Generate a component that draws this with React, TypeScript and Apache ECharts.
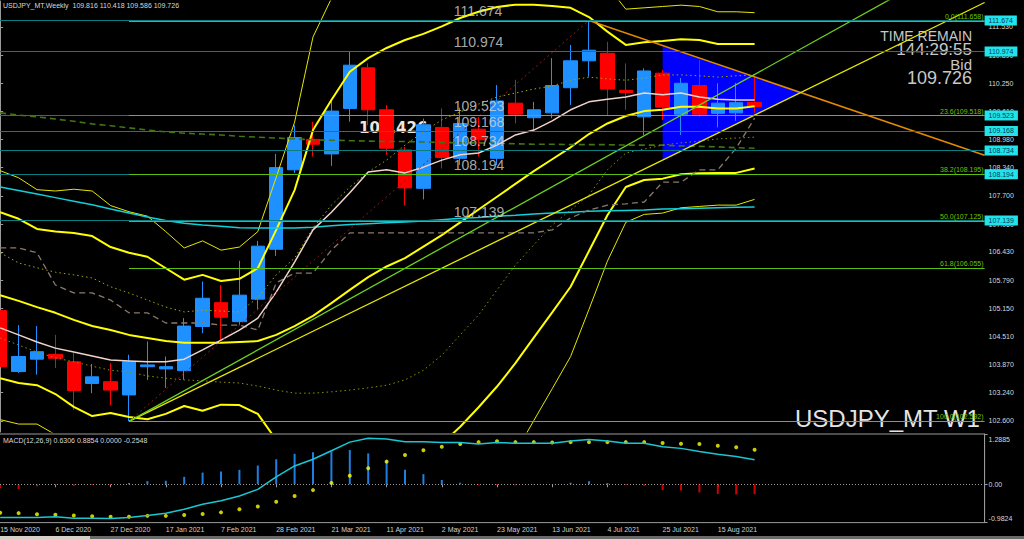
import React, { useEffect, useRef } from "react";
import * as echarts from "echarts";

// ---------- data ----------
const dates = ["15 Nov 2020","22 Nov 2020","29 Nov 2020","6 Dec 2020","13 Dec 2020","20 Dec 2020","27 Dec 2020","3 Jan 2021","10 Jan 2021","17 Jan 2021","24 Jan 2021","31 Jan 2021","7 Feb 2021","14 Feb 2021","21 Feb 2021","28 Feb 2021","7 Mar 2021","14 Mar 2021","21 Mar 2021","28 Mar 2021","4 Apr 2021","11 Apr 2021","18 Apr 2021","25 Apr 2021","2 May 2021","9 May 2021","16 May 2021","23 May 2021","30 May 2021","6 Jun 2021","13 Jun 2021","20 Jun 2021","27 Jun 2021","4 Jul 2021","11 Jul 2021","18 Jul 2021","25 Jul 2021","1 Aug 2021","8 Aug 2021","15 Aug 2021","22 Aug 2021","29 Aug 2021"];
const emptySlots = ["f1","f2","f3","f4","f5","f6","f7","f8","f9","f10","f11","f12"];

const open = [105.10,103.72,104.00,104.11,103.94,103.45,103.49,103.19,103.83,103.78,103.74,104.74,105.28,104.85,105.36,106.49,108.29,108.98,108.65,109.68,110.60,109.65,108.74,107.87,109.25,108.55,109.21,108.55,109.80,109.47,109.58,110.15,110.76,110.93,110.09,109.49,110.48,109.55,110.20,109.57,109.58,109.816];
const high = [105.25,104.77,104.75,104.55,104.14,103.89,103.91,104.10,104.40,104.06,104.93,105.76,105.68,106.23,106.68,108.65,109.30,109.38,109.85,110.974,110.70,109.76,108.81,109.45,109.68,109.70,109.49,110.21,110.33,109.83,110.82,111.12,111.674,111.19,110.70,110.59,110.55,110.37,110.78,110.25,110.26,110.418];
const low = [103.70,103.69,103.65,103.80,102.85,103.23,102.96,102.592,103.53,103.35,103.53,104.59,104.43,104.77,105.11,106.34,108.22,108.59,108.38,109.38,109.30,108.63,107.48,107.62,108.32,108.40,108.59,108.40,109.34,109.15,109.46,109.76,110.40,109.53,109.65,109.08,109.42,109.08,109.49,109.25,109.40,109.586];
const close = [103.83,104.06,104.17,104.02,103.29,103.60,103.30,103.94,103.87,103.83,104.75,105.38,104.95,105.45,106.56,108.34,109.02,108.87,109.62,110.66,109.65,108.78,107.88,109.31,108.57,109.34,108.97,109.85,109.55,109.65,110.20,110.76,111.00,110.12,110.04,110.53,109.71,110.25,109.55,109.80,109.81,109.726];

const bbMid = [105.45,105.32,105.18,105.05,104.89,104.75,104.66,104.55,104.48,104.41,104.37,104.37,104.37,104.39,104.41,104.55,104.75,104.98,105.27,105.57,105.86,106.10,106.29,106.55,106.81,107.10,107.39,107.68,107.97,108.26,108.53,108.80,109.10,109.34,109.51,109.62,109.65,109.72,109.72,109.68,109.68,109.73];
const bbUp2 = [107.33,107.18,106.95,106.89,106.86,106.79,106.54,106.41,106.32,106.06,105.80,105.91,105.77,105.82,106.06,106.93,107.83,109.19,109.87,110.51,110.82,111.05,111.23,111.37,111.54,111.73,111.87,111.98,112.03,112.03,112.00,111.96,111.75,111.42,111.12,111.18,111.21,111.25,111.23,111.14,111.14,111.14];
const bbLo2 = [103.57,103.46,103.41,103.21,102.92,102.71,102.78,102.69,102.64,102.76,102.94,102.83,102.97,102.96,102.76,102.17,101.67,100.77,100.67,100.63,100.90,101.15,101.35,101.73,102.08,102.47,102.91,103.38,103.91,104.49,105.06,105.64,106.45,107.26,107.90,108.06,108.09,108.19,108.21,108.22,108.22,108.32];
const bbUp3 = [108.27,108.11,107.84,107.81,107.85,107.81,107.48,107.34,107.24,106.89,106.52,106.68,106.47,106.54,106.89,108.12,109.37,111.30,112.17,112.98,113.30,113.53,113.70,113.78,113.91,114.05,114.11,114.13,114.06,113.92,113.74,113.54,113.08,112.46,111.93,111.96,111.99,112.02,111.99,111.87,111.87,111.85];
const bbLo3 = [102.63,102.53,102.53,102.29,101.93,101.69,101.84,101.76,101.72,101.94,102.23,102.06,102.27,102.25,101.94,100.98,100.13,98.67,98.37,98.16,98.42,98.68,98.88,99.32,99.71,100.16,100.67,101.23,101.88,102.61,103.33,104.06,105.13,106.22,107.10,107.28,107.31,107.43,107.46,107.49,107.49,107.62];
const pinkMA = [104.71,104.55,104.39,104.25,104.16,104.07,103.98,103.96,103.94,103.94,104.00,104.21,104.43,104.66,104.93,105.52,106.20,106.93,107.33,107.77,108.24,108.29,108.22,108.35,108.51,108.63,108.67,108.85,109.08,109.19,109.40,109.65,109.83,109.89,109.94,110.03,109.99,110.03,109.94,109.89,109.87,109.87];
const oliveUpper = [106.41,106.18,106.07,105.97,105.91,105.84,105.64,105.50,105.34,105.18,105.07,105.11,105.09,105.07,105.39,105.91,106.29,106.97,107.49,107.90,108.24,108.51,108.85,109.15,109.42,109.60,109.78,109.94,110.03,110.12,110.19,110.32,110.39,110.35,110.32,110.37,110.44,110.44,110.42,110.39,110.42,110.44];
const oliveLower = [104.48,104.32,104.16,104.03,103.94,103.84,103.75,103.71,103.62,103.57,103.53,103.51,103.48,103.46,103.39,103.30,103.23,103.23,103.26,103.30,103.35,103.41,103.53,103.75,104.09,104.55,105.00,105.57,106.13,106.59,107.04,107.38,107.72,108.29,108.67,108.76,108.85,108.90,108.94,108.99,109.01,109.03];
const grayDashed = [106.52,106.52,106.41,105.68,105.50,105.50,105.34,105.05,105.05,104.82,104.82,104.82,104.77,104.77,104.66,105.73,105.95,105.95,106.47,106.86,106.86,106.86,106.86,106.86,106.86,106.86,106.86,106.86,106.86,106.86,106.93,107.20,107.38,107.49,107.52,107.56,108.01,108.01,108.29,108.29,108.78,109.46];
const greenDashed = [109.58,109.53,109.49,109.44,109.39,109.33,109.29,109.24,109.19,109.15,109.12,109.10,109.08,109.05,109.03,109.01,108.99,108.97,108.96,108.95,108.94,108.93,108.93,108.92,108.91,108.90,108.90,108.89,108.88,108.87,108.87,108.86,108.86,108.86,108.85,108.85,108.85,108.83,108.82,108.81,108.79,108.78];
const cyanMA = [107.90,107.82,107.74,107.66,107.58,107.50,107.40,107.31,107.22,107.14,107.08,107.04,107.01,106.98,106.97,106.97,106.97,106.99,107.02,107.05,107.07,107.09,107.11,107.13,107.16,107.19,107.21,107.24,107.26,107.29,107.31,107.33,107.35,107.36,107.37,107.38,107.40,107.41,107.42,107.43,107.44,107.45];

const macdLine = [-0.85,-0.85,-0.85,-0.83,-0.87,-0.87,-0.88,-0.85,-0.80,-0.74,-0.64,-0.51,-0.42,-0.30,-0.13,0.19,0.47,0.64,0.86,1.08,1.18,1.16,1.09,1.09,1.07,1.07,1.03,1.07,1.05,1.05,1.05,1.11,1.15,1.11,1.05,1.05,0.96,0.92,0.84,0.77,0.71,0.6306];
const macdSignal = [-0.73,-0.74,-0.77,-0.78,-0.80,-0.82,-0.83,-0.83,-0.81,-0.81,-0.79,-0.76,-0.72,-0.64,-0.57,-0.45,-0.30,-0.15,0.03,0.22,0.41,0.58,0.75,0.87,0.96,1.03,1.08,1.10,1.08,1.08,1.07,1.08,1.08,1.08,1.08,1.08,1.06,1.04,1.03,0.99,0.95,0.8854];
const macdHist = [-0.10,-0.12,-0.05,-0.02,-0.04,-0.02,-0.02,0.03,0.08,0.09,0.19,0.30,0.33,0.37,0.48,0.64,0.78,0.82,0.84,0.88,0.79,0.62,0.37,0.26,0.11,0.04,-0.03,-0.02,-0.03,-0.02,-0.01,0.04,0.08,0.03,-0.02,-0.04,-0.15,-0.16,-0.21,-0.25,-0.26,-0.2548];

const priceTicks = [111.53,110.89,110.25,109.61,108.98,108.34,107.70,107.06,106.43,105.79,105.15,104.51,103.87,103.24,102.60];
const macdTicks = [1.2885, 0, -0.9824];
const macdTickLabels = ["1.2885", "0.00", "-0.9824"];

const hLevels = [111.674,110.974,109.523,109.168,108.734,108.194,107.139];
const fibPct = ["0.0","23.6","38.2","50.0","61.8","100.0"];
const fibValues = [111.658,109.518,108.195,107.125,106.055,102.592];
const fibStartBar = 7;
const bidPrice = 109.726;

// trend objects: [barIndex, price]
const greenTrend = [[7, 102.592],[50, 112.53]];
const yellowTrend = [[7, 102.592],[53.5, 112.08]];
const orangeTrend = [[32, 111.674],[53.5, 108.62]];
const redTrend = [[7, 102.592],[32, 111.674]];
const triangleX = [36, 43.47, 36];
const triangleY = [111.10, 110.04, 108.52];

// ---------- layout ----------
const SLOT = 18.4;
const SHIFT = 9; // chart canvas starts 9px left of the page so the first bar sits at the left edge
const NSLOT = dates.length + emptySlots.length;
const GRID_W = SLOT * NSLOT;
const FONT = "Liberation Sans";
const LABEL_BAR = 24.65;
const gx = (x: number) => x + SHIFT;

export default function App() {
  const ref = useRef<HTMLDivElement>(null);
  useEffect(() => {
    if (!ref.current) return;
    const chart = echarts.init(ref.current, null, { renderer: "svg" });
    const categories = dates.concat(emptySlots);
    const showIdx = (i: number) => i % 3 === 0 && i < dates.length;
    const candleData = dates.map((_, i) => [open[i], close[i], low[i], high[i]]);

    const lineS = (data: number[], color: string, width: number, type: any = "solid", z = 3) => ({
      type: "line", xAxisIndex: 0, yAxisIndex: 0, data, symbol: "none", silent: true, z,
      lineStyle: { color, width, type }, animation: false,
    });
    const trendS = (pts: number[][], color: string, width: number, type: any = "solid") => ({
      type: "line", xAxisIndex: 1, yAxisIndex: 0, data: pts, symbol: "none", silent: true, z: 4,
      lineStyle: { color, width, type }, animation: false,
    });

    const markData: any[] = [];
    hLevels.forEach((v) => {
      markData.push({
        yAxis: v,
        lineStyle: { color: "#0b7f80", width: 1, type: "solid" },
        label: { show: true, position: "end", distance: 0, formatter: v.toFixed(3), backgroundColor: "#20e4ec", color: "#063a5c", padding: [1, 4, 1, 4], fontSize: 7, fontFamily: FONT, lineHeight: 8 },
      });
    });
    markData.push({
      yAxis: bidPrice,
      lineStyle: { opacity: 0, width: 0 },
      label: { show: true, position: "end", distance: 0, formatter: bidPrice.toFixed(3), backgroundColor: "#ffffff", color: "#000000", padding: [1, 4, 1, 4], fontSize: 7, fontFamily: FONT, lineHeight: 8 },
    });
    fibValues.forEach((v, i) => {
      markData.push([
        { coord: [fibStartBar, v], lineStyle: { color: "#5cbf10", width: 1, type: "solid" },
          label: { show: true, position: "insideEndTop", distance: 1, formatter: `${fibPct[i]}(${v.toFixed(3)})`, color: "#6fc400", fontSize: 7, fontFamily: FONT } },
        { coord: [NSLOT - 0.5, v] },
      ]);
    });

    const option: any = {
      animation: false,
      backgroundColor: "#000000",
      grid: [
        { left: 0, top: 1, width: GRID_W, height: 431, show: false },
        { left: 0, top: 434, width: GRID_W, height: 88.6, show: true, borderColor: "#9a9a9a", borderWidth: 1, backgroundColor: "transparent" },
      ],
      xAxis: [
        { type: "category", gridIndex: 0, data: categories, boundaryGap: true, show: false },
        { type: "value", gridIndex: 0, min: -0.5, max: NSLOT - 0.5, show: false },
        {
          type: "category", gridIndex: 1, data: categories, boundaryGap: true, position: "bottom",
          axisLine: { show: false },
          axisTick: { show: true, alignWithLabel: true, interval: (i: number) => showIdx(i), length: 3, lineStyle: { color: "#9a9a9a" } },
          axisLabel: { interval: (i: number) => showIdx(i), align: "left", margin: 3, color: "#d0d0d0", fontSize: 7, fontFamily: FONT },
          splitLine: { show: false },
        },
      ],
      yAxis: [
        {
          type: "value", gridIndex: 0, position: "right", min: 102.35, max: 112.1145,
          splitLine: { show: false },
          axisLine: { show: true, lineStyle: { color: "#9a9a9a" } },
          axisTick: { show: true, length: 3, customValues: priceTicks, lineStyle: { color: "#9a9a9a" } },
          axisLabel: { customValues: priceTicks, formatter: (v: number) => v.toFixed(3), color: "#d8d8d8", fontSize: 7, fontFamily: FONT, margin: 4 },
        },
        {
          type: "value", gridIndex: 1, position: "right", min: -0.9824, max: 1.2885,
          splitLine: { show: false },
          axisLine: { show: true, lineStyle: { color: "#9a9a9a" } },
          axisTick: { show: true, length: 3, customValues: macdTicks, lineStyle: { color: "#9a9a9a" } },
          axisLabel: {
            customValues: macdTicks, margin: 4,
            formatter: (v: number) => {
              let k = 0;
              macdTicks.forEach((t, i) => { if (Math.abs(t - v) < Math.abs(macdTicks[k] - v)) k = i; });
              const tag = k === 0 ? "t" : k === 2 ? "b" : "m";
              return `{${tag}|${macdTickLabels[k]}}`;
            },
            rich: {
              t: { padding: [10, 0, 0, 0], color: "#d8d8d8", fontSize: 7, fontFamily: FONT },
              m: { color: "#d8d8d8", fontSize: 7, fontFamily: FONT },
              b: { padding: [0, 0, 9, 0], color: "#d8d8d8", fontSize: 7, fontFamily: FONT },
            },
          },
        },
      ],
      series: [
        {
          type: "custom", xAxisIndex: 1, yAxisIndex: 0, z: 1, silent: true,
          data: [[triangleX[0], triangleY[0]]],
          renderItem: (_p: any, api: any) => ({
            type: "polygon",
            shape: { points: triangleX.map((x, i) => api.coord([x, triangleY[i]])) },
            style: { fill: "#0000ff" },
          }),
        },
        {
          type: "candlestick", xAxisIndex: 0, yAxisIndex: 0, data: candleData, barWidth: 14, z: 2, silent: true,
          itemStyle: { color: "#1e90ff", color0: "#ff0000", borderColor: "#1e90ff", borderColor0: "#ff0000", borderWidth: 1 },
        },
        lineS(bbUp3, "#e6e600", 1),
        lineS(bbLo3, "#e6e600", 1),
        lineS(bbUp2, "#ffff00", 2),
        lineS(bbLo2, "#ffff00", 2),
        lineS(bbMid, "#ffff00", 2),
        lineS(cyanMA, "#10d0d8", 1.5),
        lineS(greenDashed, "#3f7512", 1.6, [6, 4]),
        lineS(grayDashed, "#8a796c", 1.3, [6, 4]),
        lineS(oliveLower, "#8f8f00", 1, [1.5, 3]),
        lineS(oliveUpper, "#a6a600", 1, [1.5, 3]),
        lineS(pinkMA, "#f0d4cc", 1.5),
        trendS(redTrend, "#8a1818", 1, [2, 3]),
        trendS(orangeTrend, "#e38b00", 1.5),
        trendS(yellowTrend, "#e8e800", 1.3),
        {
          ...trendS(greenTrend, "#6cd11e", 1.3),
          markLine: { silent: true, symbol: "none", animation: false, data: markData },
        },
        {
          type: "scatter", xAxisIndex: 1, yAxisIndex: 0, symbolSize: 0, silent: true, z: 5,
          data: hLevels.map((v) => [LABEL_BAR, v]),
          label: {
            show: true, position: "top", align: "left", distance: 2,
            formatter: (p: any) => p.value[1].toFixed(3),
            color: "#d4d4d4", fontSize: 14, fontFamily: FONT,
          },
        },
        // MACD panel
        {
          type: "bar", xAxisIndex: 2, yAxisIndex: 1, data: macdHist, barWidth: 2, silent: true,
          itemStyle: { color: (p: any) => (p.value >= 0 ? "#1f7fe0" : "#d00000") },
          markLine: {
            silent: true, symbol: "none", animation: false,
            data: [{ yAxis: 0, lineStyle: { color: "#9a9a9a", type: [1, 2], width: 1 }, label: { show: false } }],
          },
        },
        {
          type: "line", xAxisIndex: 2, yAxisIndex: 1, data: macdLine, symbol: "none", silent: true,
          lineStyle: { color: "#19c6d2", width: 1.5 },
        },
        {
          type: "scatter", xAxisIndex: 2, yAxisIndex: 1, data: macdSignal, symbol: "circle", symbolSize: 4, silent: true,
          itemStyle: { color: "#ffff00" },
        },
      ],
      graphic: [
        { type: "text", x: gx(3), y: 2, silent: true, style: { text: "USDJPY_MT,Weekly  109.816 110.418 109.586 109.726", fill: "#d8d8d8", fontSize: 7, fontFamily: FONT } },
        { type: "text", x: gx(3), y: 437, silent: true, style: { text: "MACD(12,26,9) 0.6306 0.8854 0.0000 -0.2548", fill: "#d8d8d8", fontSize: 7, fontFamily: FONT } },
        { type: "text", x: gx(972), y: 36, silent: true, style: { text: "TIME REMAIN", fill: "#c8c8c8", fontSize: 14, fontFamily: FONT, align: "right", verticalAlign: "middle" } },
        { type: "text", x: gx(972), y: 49, silent: true, style: { text: "144:29:55", fill: "#c8c8c8", fontSize: 17, fontFamily: FONT, align: "right", verticalAlign: "middle" } },
        { type: "text", x: gx(972), y: 64.5, silent: true, style: { text: "Bid", fill: "#c8c8c8", fontSize: 15, fontFamily: FONT, align: "right", verticalAlign: "middle" } },
        { type: "text", x: gx(972), y: 78, silent: true, style: { text: "109.726", fill: "#c8c8c8", fontSize: 18, fontFamily: FONT, align: "right", verticalAlign: "middle" } },
        { type: "text", x: gx(795), y: 418, silent: true, style: { text: "USDJPY_MT W1", fill: "#e4e4e4", fontSize: 24, fontFamily: FONT, verticalAlign: "middle" } },
        { type: "text", x: gx(359), y: 128, silent: true, style: { text: "109.426", fill: "#efe6dc", fontSize: 15, fontWeight: "bold", fontFamily: "DejaVu Sans", verticalAlign: "middle" } },
        { type: "rect", silent: true, shape: { x: 0, y: 536, width: 1040, height: 3 }, style: { fill: "#6a6a6a" } },
        { type: "rect", silent: true, shape: { x: gx(0), y: 536, width: 90, height: 3 }, style: { fill: "#d4d0c8" } },
      ],
    };
    chart.setOption(option);
    return () => chart.dispose();
  }, []);
  return (
    <div style={{ position: "fixed", left: 0, top: 0, width: 1024, height: 539, overflow: "hidden", background: "#000" }}>
      <div ref={ref} style={{ position: "absolute", left: -SHIFT, top: 0, width: 1024 + SHIFT, height: 539 }} />
    </div>
  );
}
